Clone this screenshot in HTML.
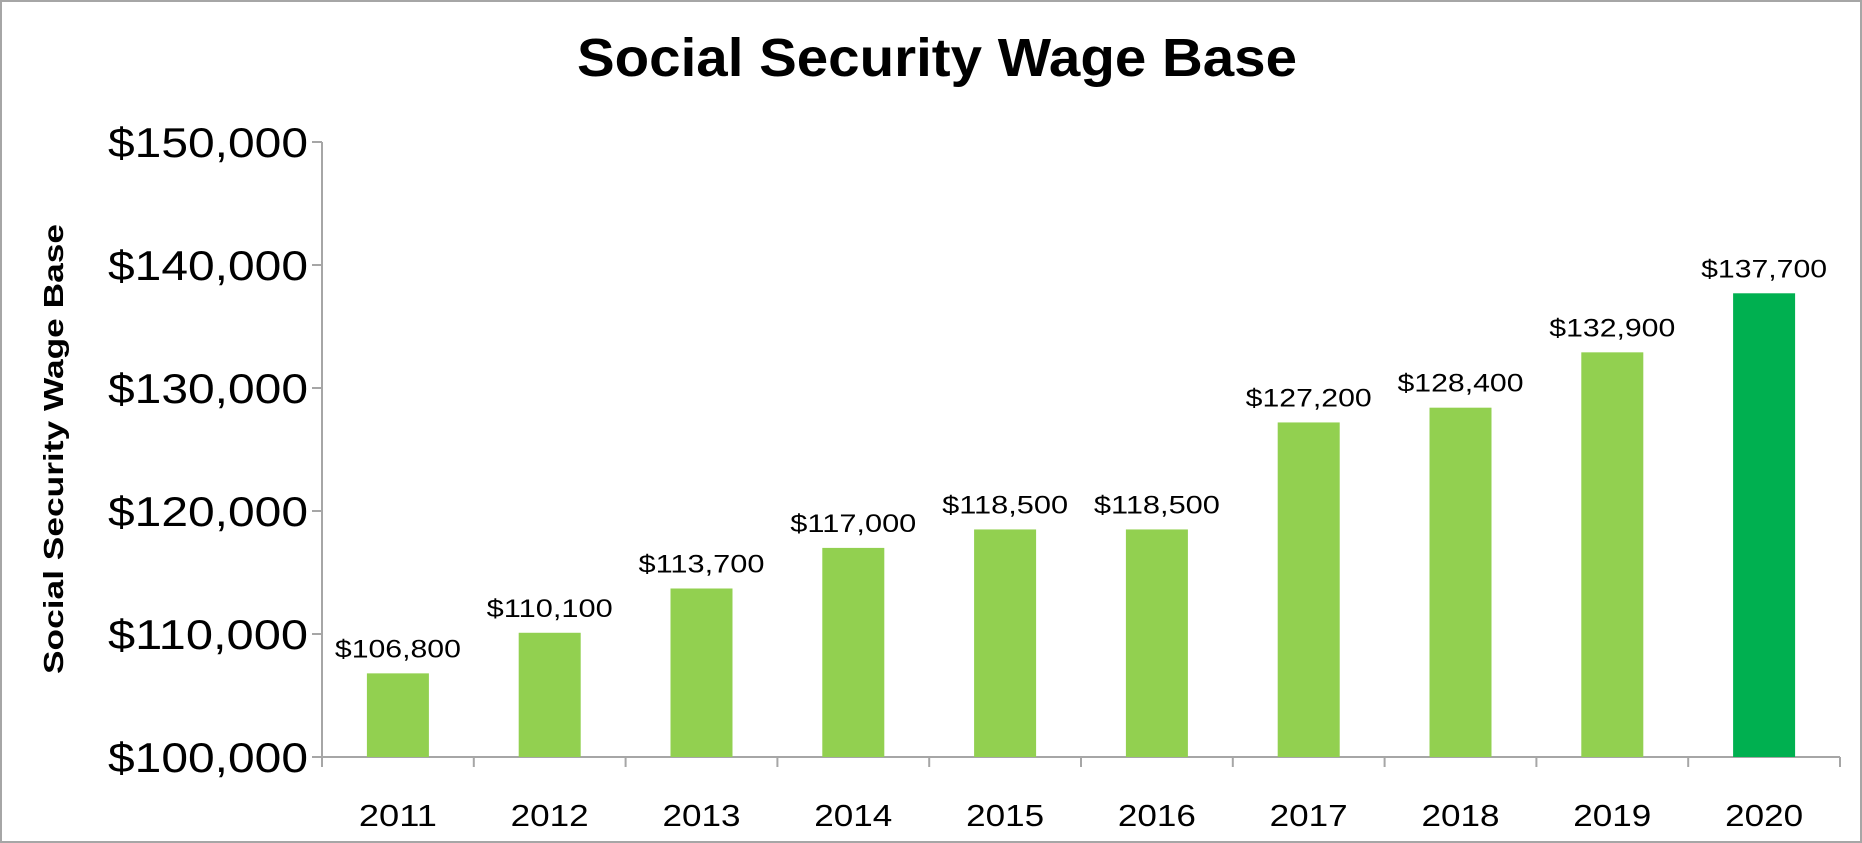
<!DOCTYPE html>
<html><head><meta charset="utf-8"><style>
html,body{margin:0;padding:0;background:#fff;}
svg{display:block;font-family:"Liberation Sans",sans-serif;}
</style></head><body>
<svg id="chart" width="1862" height="843" viewBox="0 0 1862 843">
<rect x="1" y="1" width="1860" height="841" fill="#fff" stroke="#a6a6a6" stroke-width="2"/>
<text x="937" y="76" text-anchor="middle" font-size="54" font-weight="bold" textLength="720" lengthAdjust="spacingAndGlyphs">Social Security Wage Base</text>
<text transform="translate(63,449) rotate(-90)" text-anchor="middle" font-size="28" font-weight="bold" textLength="450" lengthAdjust="spacingAndGlyphs">Social Security Wage Base</text>
<g id="axes"></g><g id="bars"></g>
</svg>
<script>
const categories=["2011","2012","2013","2014","2015","2016","2017","2018","2019","2020"];
const values=[106800,110100,113700,117000,118500,118500,127200,128400,132900,137700];
const labels=["$106,800","$110,100","$113,700","$117,000","$118,500","$118,500","$127,200","$128,400","$132,900","$137,700"];
const ticks=[100000,110000,120000,130000,140000,150000];
const tickLabels=["$100,000","$110,000","$120,000","$130,000","$140,000","$150,000"];
const NS="http://www.w3.org/2000/svg";
const x0=322,x1=1840,yTop=142,yBot=757,vMin=100000,vMax=150000;
const y=v=>yBot-(v-vMin)/(vMax-vMin)*(yBot-yTop);
const bw=(x1-x0)/categories.length;
const xc=i=>x0+bw*(i+0.5);
const axes=document.getElementById('axes'),bars=document.getElementById('bars');
function mk(tag,attrs,parent,txt){const e=document.createElementNS(NS,tag);for(const k in attrs)e.setAttribute(k,attrs[k]);if(txt!==undefined)e.textContent=txt;parent.appendChild(e);return e;}
let e=mk('line',{x1:x0,y1:yTop,x2:x0,y2:yBot,stroke:'#a6a6a6','stroke-width':2},axes);


e=mk('line',{x1:x0,y1:yBot,x2:x1,y2:yBot,stroke:'#a6a6a6','stroke-width':2},axes);


ticks.forEach((t,i)=>{
 let l=mk('line',{x1:x0-10,y1:y(t),x2:x0,y2:y(t),stroke:'#a6a6a6','stroke-width':2},axes);
 
 
 let tx=mk('text',{x:308,y:y(t)+15,'text-anchor':'end','font-size':42,textLength:200,lengthAdjust:'spacingAndGlyphs'},axes,tickLabels[i]);
 
 
});
for(let i=0;i<=categories.length;i++){
 let l=mk('line',{x1:x0+bw*i,y1:yBot,x2:x0+bw*i,y2:yBot+10,stroke:'#a6a6a6','stroke-width':2},axes);
 
 
}
categories.forEach((c,i)=>{
 let tx=mk('text',{x:xc(i),y:826,'text-anchor':'middle','font-size':31,textLength:78,lengthAdjust:'spacingAndGlyphs'},axes,c);
 
 
 const w=62;
 let r=mk('rect',{x:xc(i)-w/2,y:y(values[i]),width:w,height:yBot-y(values[i]),fill:i===categories.length-1?'#00b050':'#92d050'},bars);
 
 
 let lb=mk('text',{x:xc(i),y:y(values[i])-16,'text-anchor':'middle','font-size':25,textLength:126,lengthAdjust:'spacingAndGlyphs'},bars,labels[i]);
 
 
});
</script>
</body></html>
